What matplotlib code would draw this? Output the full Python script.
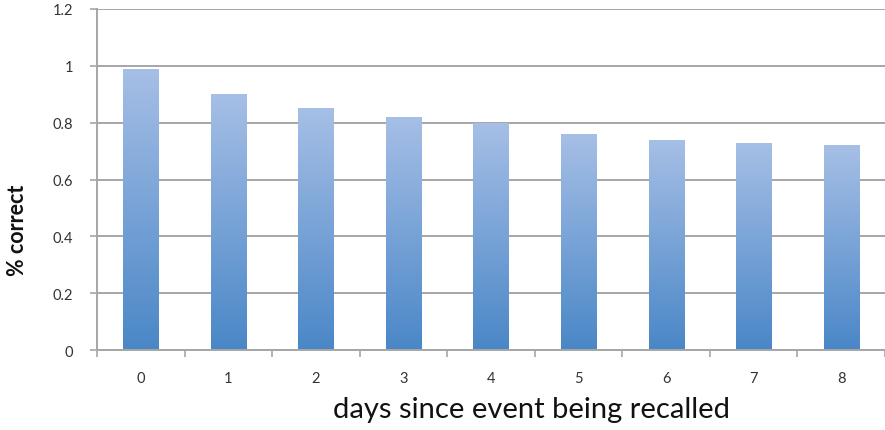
import matplotlib
matplotlib.use("Agg")
import matplotlib.pyplot as plt
import numpy as np
from matplotlib.colors import LinearSegmentedColormap

# days since the event and fraction recalled correctly
days = ["0", "1", "2", "3", "4", "5", "6", "7", "8"]
pct_correct = [0.99, 0.90, 0.85, 0.82, 0.80, 0.76, 0.74, 0.73, 0.72]
y_ticks = [0, 0.2, 0.4, 0.6, 0.8, 1, 1.2]
y_tick_labels = ["0", "0.2", "0.4", "0.6", "0.8", "1", "1.2"]

plt.rcParams["font.family"] = ["Lato", "DejaVu Sans"]

fig = plt.figure(figsize=(8.85, 4.31), dpi=100)
ax = fig.add_axes([0.1096, 0.1856, 0.8904, 0.7912])

x = np.arange(len(days))
width = 0.4
grad_cmap = LinearSegmentedColormap.from_list("bar_grad", ["#4a87c7", "#a6bfe6"])
gradient = np.linspace(0, 1, 256).reshape(-1, 1)

bars = ax.bar(x, pct_correct, width=width, color="none", edgecolor="none", zorder=2)
for bar in bars:
    bx, by = bar.get_x(), bar.get_y()
    bw, bh = bar.get_width(), bar.get_height()
    im = ax.imshow(gradient, cmap=grad_cmap, origin="lower", aspect="auto",
                   extent=[bx, bx + bw, by, by + bh], zorder=2)
    im.set_clip_path(bar)

ax.set_xlim(-0.5, len(days) - 0.5)
ax.set_ylim(0, 1.2)

ax.set_yticks(y_ticks)
ax.set_yticklabels(y_tick_labels)
ax.yaxis.grid(True, color="#a6a6a6", linewidth=1.4, zorder=0)
ax.set_axisbelow(True)

ax.set_xticks(x)
ax.set_xticklabels(days)
ax.set_xticks(np.arange(-0.5, len(days)), minor=True)
ax.tick_params(axis="x", which="major", length=0, pad=15, labelsize=10.5, labelcolor="#333333")
ax.tick_params(axis="x", which="minor", length=5, width=1.2, color="#a6a6a6")
ax.tick_params(axis="y", length=5, width=1.2, color="#a6a6a6", pad=12, labelsize=10.5, labelcolor="#333333")

for side in ("top", "right"):
    ax.spines[side].set_visible(False)
for side in ("left", "bottom"):
    ax.spines[side].set_color("#a6a6a6")
    ax.spines[side].set_linewidth(1.4)

ax.set_xlabel("days since event being recalled", fontsize=21, color="#111111", va="center")
ax.xaxis.set_label_coords(0.551, -0.172)
ax.set_ylabel("% correct", fontsize=15.5, fontweight="bold", color="#111111", va="center")
ax.yaxis.set_label_coords(-0.1015, 0.355)

fig.savefig("out.png", dpi=100)
